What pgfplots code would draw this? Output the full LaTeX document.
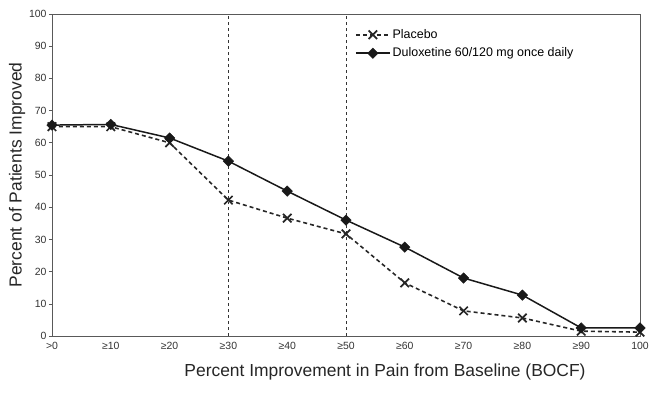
\documentclass[border=0pt]{standalone}
\usepackage{pgfplots}
\pgfplotsset{compat=1.18}
\usepackage{fontspec}
\setmainfont{Liberation Sans}
\definecolor{axgray}{gray}{0.35}
\begin{document}
\begin{tikzpicture}[x=1bp,y=1bp]
\begin{axis}[
  name=ax,
  scale only axis, width=588bp, height=322bp,
  xmin=0, xmax=10, ymin=0, ymax=100,
  xtick={0,...,10},
  xticklabels={>0,≥10,≥20,≥30,≥40,≥50,≥60,≥70,≥80,≥90,100},
  ytick={0,10,...,100},
  ytick pos=left,
  tick align=outside, major tick length=3bp,
  xtick style={draw=none},
  ytick style={axgray, line width=0.6pt},
  /pgf/number format/assume math mode=true,
  ticklabel style={font=\fontsize{10.5}{12}\selectfont, text=black!80},
  yticklabel style={xshift=1bp},
  axis line style={axgray, line width=0.8pt},
  xlabel={Percent Improvement in Pain from Baseline (BOCF)},
  ylabel={Percent of Patients Improved},
  label style={font=\fontsize{17.5}{20}\selectfont, text=black!85},
  xlabel style={xshift=39bp, yshift=-7bp},
  ylabel style={yshift=-3bp},
  legend style={at={(0.51,0.965)}, anchor=north west, draw=none, fill=none,
    font=\fontsize{12.5}{14}\selectfont, row sep=4bp, cells={anchor=west}},
  legend image code/.code={\draw[#1] (0bp,0bp) -- (34bp,0bp); \draw[#1, solid] plot coordinates {(17bp,0bp)};},
  clip=false,
]
\draw[dashed, black!80, line width=0.6pt] (axis cs:3,0) -- (axis cs:3,100);
\draw[dashed, black!80, line width=0.6pt] (axis cs:5,0) -- (axis cs:5,100);
\addplot[black!85, dash pattern=on 4bp off 3bp, line width=1.6pt, mark=x, mark size=6pt, mark options={solid, line width=1.7pt}]
  coordinates {(0,65) (1,65) (2,60) (3,42.2) (4,36.6) (5,31.7) (6,16.5) (7,7.8) (8,5.6) (9,1.5) (10,1.2)};
\addlegendentry{Placebo}
\addplot[black!90, solid, line width=1.5pt, mark=square*, mark size=3.7pt, mark options={rotate=45, fill=black!90, line width=0.5pt}]
  coordinates {(0,65.5) (1,65.7) (2,61.5) (3,54.3) (4,45) (5,36) (6,27.6) (7,18) (8,12.7) (9,2.5) (10,2.5)};
\addlegendentry{Duloxetine 60/120 mg once daily}
\end{axis}
\path[use as bounding box] ([shift={(-52bp,-58bp)}]ax.south west) rectangle ([shift={(31bp,14bp)}]ax.north east);
\end{tikzpicture}
\end{document}
